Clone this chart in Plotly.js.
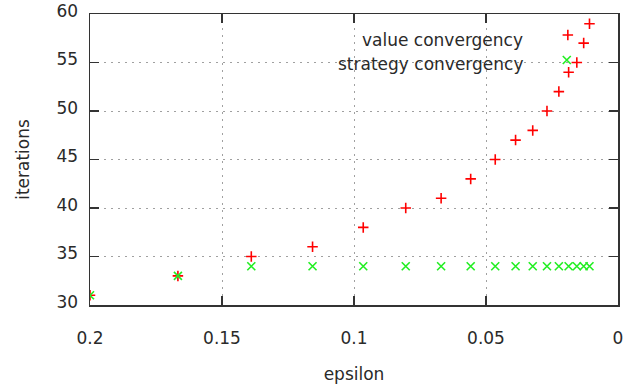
<!DOCTYPE html>
<html><head><meta charset="utf-8">
<script src="https://cdn.plot.ly/plotly-3.0.1.min.js"></script>
<style>html,body{margin:0;padding:0;background:#fff}#chart{width:639px;height:385px}</style>
</head><body><div id="chart"></div>
<script>
const epsilon = [0.2, 0.1667, 0.1389, 0.1157, 0.0965, 0.0804, 0.067, 0.0558, 0.0465, 0.0388, 0.0323, 0.0269, 0.0224, 0.0187, 0.0156, 0.013, 0.0108];
const valueIter = [31, 33, 35, 36, 38, 40, 41, 43, 45, 47, 48, 50, 52, 54, 55, 57, 59];
const strategyIter = [31, 33, 34, 34, 34, 34, 34, 34, 34, 34, 34, 34, 34, 34, 34, 34, 34];
const seriesNames = ["value convergency", "strategy convergency"];
const xTicks = [0.2, 0.15, 0.1, 0.05, 0];
const xTickText = ["0.2", "0.15", "0.1", "0.05", "0"];
const yTicks = [30, 35, 40, 45, 50, 55, 60];

const RED = "#ff0000", GREEN = "#22ee22";
const FONT = {family: "DejaVu Sans", size: 17, color: "#2a2a2a"};

const redMarker = {symbol: "cross-thin-open", size: 7.5, color: RED, line: {color: RED, width: 1.6}};
const greenMarker = {symbol: "x-thin-open", size: 8, color: GREEN, line: {color: GREEN, width: 1.6}};

const traces = [
  {x: epsilon, y: valueIter, type: "scatter", mode: "markers", name: seriesNames[0], marker: redMarker},
  {x: epsilon, y: strategyIter, type: "scatter", mode: "markers", name: seriesNames[1], marker: greenMarker},
  // key samples
  {x: [0.905], y: [0.928], xaxis: "x2", yaxis: "y2", type: "scatter", mode: "markers", hoverinfo: "skip", marker: redMarker},
  {x: [0.903], y: [0.842], xaxis: "x2", yaxis: "y2", type: "scatter", mode: "markers", hoverinfo: "skip", marker: greenMarker}
];

const axisCommon = {
  showline: true, linecolor: "#333", linewidth: 1.5, mirror: "ticks",
  ticks: "inside", ticklen: 9, tickwidth: 1.5, tickcolor: "#333",
  showgrid: true, gridcolor: "#a0a0a0", gridwidth: 1, griddash: "2px,5px",
  zeroline: false, tickfont: FONT
};

const layout = {
  width: 639, height: 385,
  margin: {l: 90, r: 21, t: 14, b: 80},
  paper_bgcolor: "#fff", plot_bgcolor: "#fff",
  showlegend: false,
  font: FONT,
  xaxis: Object.assign({}, axisCommon, {
    range: [0.2, 0], tickvals: xTicks, ticktext: xTickText,
    ticklabelstandoff: 17,
    title: {text: "epsilon", font: FONT, standoff: 21}
  }),
  yaxis: Object.assign({}, axisCommon, {
    range: [30, 60], tickvals: yTicks, ticklabelstandoff: 7, ticklabelshift: -3,
    title: {text: "iterations", font: FONT, standoff: 22}
  }),
  xaxis2: {overlaying: "x", range: [0, 1], visible: false, fixedrange: true},
  yaxis2: {overlaying: "y", range: [0, 1], visible: false, fixedrange: true},
  shapes: [
    {type: "rect", xref: "paper", yref: "paper", x0: 0.4034, x1: 0.997, y0: 0.80, y1: 0.997,
     fillcolor: "#fff", line: {width: 0}, layer: "between"}
  ],
  annotations: [
    {xref: "paper", yref: "paper", x: 0.823, y: 0.911, xanchor: "right", yanchor: "middle",
     text: seriesNames[0], showarrow: false, font: FONT},
    {xref: "paper", yref: "paper", x: 0.823, y: 0.828, xanchor: "right", yanchor: "middle",
     text: seriesNames[1], showarrow: false, font: FONT}
  ]
};

Plotly.newPlot("chart", traces, layout, {displayModeBar: false, staticPlot: true});
</script></body></html>
